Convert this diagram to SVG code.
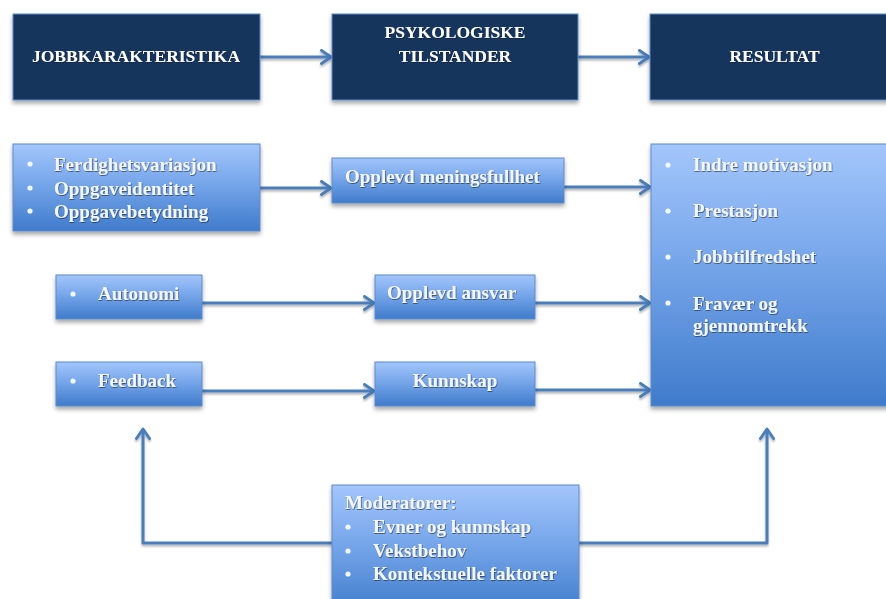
<svg xmlns="http://www.w3.org/2000/svg" width="886" height="599" viewBox="0 0 886 599">
  <defs>
    <linearGradient id="blueFill" x1="0" y1="0" x2="0" y2="1">
      <stop offset="0" stop-color="#a3c6fb"/>
      <stop offset="0.45" stop-color="#76a6ea"/>
      <stop offset="1" stop-color="#3f7bcb"/>
    </linearGradient>
    <filter id="boxShadow" x="-10%" y="-10%" width="120%" height="130%">
      <feDropShadow dx="0" dy="3" stdDeviation="2" flood-color="#000" flood-opacity="0.35"/>
    </filter>
    <filter id="lineShadow" x="-5%" y="-50%" width="110%" height="200%">
      <feDropShadow dx="0" dy="2" stdDeviation="1.2" flood-color="#000" flood-opacity="0.3"/>
    </filter>
    <filter id="textShadow" x="-5%" y="-20%" width="110%" height="150%">
      <feDropShadow dx="0.6" dy="0.8" stdDeviation="0.5" flood-color="#0a1a35" flood-opacity="0.7"/>
    </filter>
    <marker id="arrow" viewBox="0 0 14 16" refX="12" refY="8" markerWidth="14" markerHeight="16" markerUnits="userSpaceOnUse" orient="auto">
      <path d="M2.5,1.5 L12,8 L2.5,14.5" fill="none" stroke="#4a7ebb" stroke-width="3" stroke-linecap="round" stroke-linejoin="round"/>
    </marker>
  </defs>
  <style>
    .hdr { fill: #17365d; stroke: #5d8ccb; stroke-width: 1; filter: url(#boxShadow); }
    .box { fill: url(#blueFill); stroke: #5b8ccc; stroke-width: 1; filter: url(#boxShadow); }
    .hdrText { font-family: "Liberation Serif", "Times New Roman", serif; font-weight: bold; font-size: 17.5px; fill: #ffffff; filter: url(#textShadow); }
    .txt { font-family: "Liberation Serif", "Times New Roman", serif; font-weight: bold; font-size: 19px; fill: #f4f7ff; filter: url(#textShadow); }
    .dot { fill: #f4f7ff; }
    .conn { fill: none; stroke: #4a7ebb; stroke-width: 3; stroke-linejoin: round; }
  </style>
  <rect width="886" height="599" fill="#ffffff"/>

  <!-- connectors -->
  <g id="connectors" filter="url(#lineShadow)">
    <line class="conn" x1="260" y1="57" x2="331" y2="57" marker-end="url(#arrow)"/>
    <line class="conn" x1="578" y1="57" x2="649" y2="57" marker-end="url(#arrow)"/>
    <line class="conn" x1="260" y1="188" x2="331" y2="188" marker-end="url(#arrow)"/>
    <line class="conn" x1="564" y1="187" x2="650" y2="187" marker-end="url(#arrow)"/>
    <line class="conn" x1="202" y1="303" x2="374" y2="303" marker-end="url(#arrow)"/>
    <line class="conn" x1="535" y1="303" x2="650" y2="303" marker-end="url(#arrow)"/>
    <line class="conn" x1="202" y1="391" x2="374" y2="391" marker-end="url(#arrow)"/>
    <line class="conn" x1="535" y1="390" x2="650" y2="390" marker-end="url(#arrow)"/>
    <polyline class="conn" points="332,543 143,543 143,429" marker-end="url(#arrow)"/>
    <polyline class="conn" points="579,543 767,543 767,429" marker-end="url(#arrow)"/>
  </g>

  <!-- column headers -->
  <g id="hdr-jobb">
    <rect class="hdr" x="13" y="14" width="247" height="86"/>
    <text class="hdrText" x="136" y="62" text-anchor="middle">JOBBKARAKTERISTIKA</text>
  </g>
  <g id="hdr-psyk">
    <rect class="hdr" x="332" y="14" width="246" height="86"/>
    <text class="hdrText" x="455" y="38" text-anchor="middle">PSYKOLOGISKE</text>
    <text class="hdrText" x="455" y="62" text-anchor="middle">TILSTANDER</text>
  </g>
  <g id="hdr-resultat">
    <rect class="hdr" x="650" y="14" width="245" height="86"/>
    <text class="hdrText" x="774.5" y="62" text-anchor="middle">RESULTAT</text>
  </g>

  <!-- job characteristics -->
  <g id="node-ferdighet">
    <rect class="box" x="13" y="144" width="247" height="87"/>
    <circle class="dot" cx="30" cy="164" r="2.6"/>
    <circle class="dot" cx="30" cy="188" r="2.6"/>
    <circle class="dot" cx="30" cy="211" r="2.6"/>
    <text class="txt" x="54" y="171">Ferdighetsvariasjon</text>
    <text class="txt" x="54" y="194.5">Oppgaveidentitet</text>
    <text class="txt" x="54" y="218">Oppgavebetydning</text>
  </g>
  <g id="node-autonomi">
    <rect class="box" x="56" y="275" width="146" height="44"/>
    <circle class="dot" cx="73" cy="294" r="2.6"/>
    <text class="txt" x="98" y="300">Autonomi</text>
  </g>
  <g id="node-feedback">
    <rect class="box" x="56" y="362" width="146" height="44"/>
    <circle class="dot" cx="73" cy="381" r="2.6"/>
    <text class="txt" x="98" y="387">Feedback</text>
  </g>

  <!-- psychological states -->
  <g id="node-meningsfullhet">
    <rect class="box" x="332" y="158" width="232" height="45"/>
    <text class="txt" x="345" y="183">Opplevd meningsfullhet</text>
  </g>
  <g id="node-ansvar">
    <rect class="box" x="375" y="275" width="160" height="44"/>
    <text class="txt" x="387" y="299">Opplevd ansvar</text>
  </g>
  <g id="node-kunnskap">
    <rect class="box" x="375" y="362" width="160" height="44"/>
    <text class="txt" x="455" y="387" text-anchor="middle">Kunnskap</text>
  </g>

  <!-- outcomes -->
  <g id="node-resultat">
    <rect class="box" x="651" y="144" width="245" height="262"/>
    <circle class="dot" cx="668" cy="165" r="2.6"/>
    <circle class="dot" cx="668" cy="211" r="2.6"/>
    <circle class="dot" cx="668" cy="257" r="2.6"/>
    <circle class="dot" cx="668" cy="303" r="2.6"/>
    <text class="txt" x="693" y="171">Indre motivasjon</text>
    <text class="txt" x="693" y="217">Prestasjon</text>
    <text class="txt" x="693" y="263">Jobbtilfredshet</text>
    <text class="txt" x="693" y="310">Fravær og</text>
    <text class="txt" x="693" y="332">gjennomtrekk</text>
  </g>

  <!-- moderators -->
  <g id="node-moderatorer">
    <rect class="box" x="332" y="485" width="247" height="130"/>
    <text class="txt" x="345" y="509">Moderatorer:</text>
    <circle class="dot" cx="348" cy="527" r="2.6"/>
    <circle class="dot" cx="348" cy="551" r="2.6"/>
    <circle class="dot" cx="348" cy="574" r="2.6"/>
    <text class="txt" x="373" y="533">Evner og kunnskap</text>
    <text class="txt" x="373" y="557">Vekstbehov</text>
    <text class="txt" x="373" y="580">Kontekstuelle faktorer</text>
  </g>
</svg>
